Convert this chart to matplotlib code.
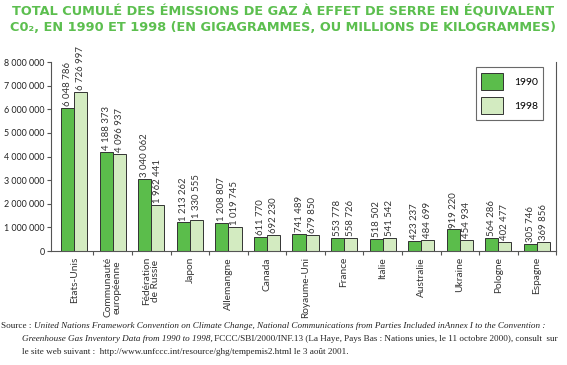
import matplotlib
matplotlib.use('Agg')
import matplotlib.pyplot as plt
import numpy as np

pays = ["Etats-Unis", "Communauté\neuropéenne", "Fédération\nde Russie", "Japon",
        "Allemangne", "Canada", "Royaume-Uni", "France", "Italie", "Australie",
        "Ukraine", "Pologne", "Espagne"]
v1990 = [6048786, 4188373, 3040062, 1213262, 1208807, 611770, 741489,
         553778, 518502, 423237, 919220, 564286, 305746]
v1998 = [6726997, 4096937, 1962441, 1330555, 1019745, 692230, 679850,
         558726, 541542, 484699, 454934, 402477, 369856]
annees = ["1990", "1998"]
yticks = [0, 1000000, 2000000, 3000000, 4000000, 5000000, 6000000, 7000000, 8000000]

vert = "#5bbd4b"
vert_clair = "#d3ebc1"
titre_col = "#5cbf4f"

def fmt(v):
    return "{:,}".format(v).replace(",", " ")

fig = plt.figure(figsize=(5.67, 3.65), dpi=100)
ax = fig.add_axes([0.09, 0.312, 0.891, 0.518])

x = np.arange(len(pays))
w = 0.34
b1 = ax.bar(x - w / 2, v1990, w, color=vert, edgecolor="#333333", linewidth=0.7, label=annees[0])
b2 = ax.bar(x + w / 2, v1998, w, color=vert_clair, edgecolor="#333333", linewidth=0.7, label=annees[1])

for bars, vals in [(b1, v1990), (b2, v1998)]:
    for r, v in zip(bars, vals):
        ax.text(r.get_x() + r.get_width() / 2, v + 80000, fmt(v), rotation=90,
                ha="center", va="bottom", fontsize=6.9, family="Lato", color="#333333")

ax.set_xlim(-0.6, len(pays) - 0.53)
ax.set_ylim(0, 8000000)
ax.set_yticks(yticks)
ax.set_yticklabels([fmt(t) for t in yticks], family="Lato", fontsize=6.4, color="#222222")
ax.set_xticks(x + 0.5)
ax.set_xticklabels([])
ax.tick_params(axis="x", length=3, color="#555555", direction="out")
ax.tick_params(axis="y", length=3, color="#555555", pad=1.5)

for i, p in enumerate(pays):
    ax.text(i, -250000, p, rotation=90, ha="center", va="top", fontsize=7.3,
            family="Lato", color="#333333", linespacing=0.95)

ax.spines["top"].set_visible(False)
for s in ["left", "right", "bottom"]:
    ax.spines[s].set_color("#555555")
    ax.spines[s].set_linewidth(0.8)

leg = ax.legend(loc="upper right", bbox_to_anchor=(0.985, 1.0), frameon=True, fancybox=False,
                edgecolor="#444444", handlelength=2.1, handleheight=2.1, labelspacing=0.7,
                borderpad=0.55, handletextpad=1.0, prop={"family": "Lato", "size": 7.5})
leg.get_frame().set_linewidth(0.8)

fig.text(0.5, 0.967, "TOTAL CUMULÉ DES ÉMISSIONS DE GAZ À EFFET DE SERRE EN ÉQUIVALENT",
         ha="center", va="center", fontsize=9.3, fontweight="bold", family="DejaVu Sans", color=titre_col)
fig.text(0.5, 0.925, "C0₂, EN 1990 ET 1998 (EN GIGAGRAMMES, OU MILLIONS DE KILOGRAMMES)",
         ha="center", va="center", fontsize=9.3, fontweight="bold",
         family="DejaVu Sans", color=titre_col)

# source, mixed italic / roman
renderer = fig.canvas.get_renderer()
lignes = [
    (0.002, 0.107, [("Source : ", "normal"),
                    ("United Nations Framework Convention on Climate Change, National Communications from Parties Included inAnnex I to the Convention :", "italic")]),
    (0.038, 0.071, [("Greenhouse Gas Inventory Data from 1990 to 1998,", "italic"),
                    (" FCCC/SBI/2000/INF.13 (La Haye, Pays Bas : Nations unies, le 11 octobre 2000), consult  sur", "normal")]),
    (0.038, 0.036, [("le site web suivant :  http://www.unfccc.int/resource/ghg/tempemis2.html le 3 août 2001.", "normal")]),
]
for x0, y0, morceaux in lignes:
    xc = x0
    for txt, style in morceaux:
        t = fig.text(xc, y0, txt, ha="left", va="center", fontsize=6.6,
                     family="Liberation Serif", style=style, color="#222222")
        bb = t.get_window_extent(renderer=renderer)
        xc += bb.width / fig.bbox.width

fig.savefig("out.png", dpi=100)
